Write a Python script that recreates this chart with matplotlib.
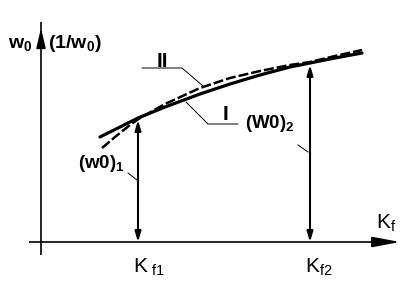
import matplotlib
matplotlib.use("Agg")
import matplotlib.pyplot as plt
import numpy as np

plt.rcParams['mathtext.fontset'] = 'custom'
plt.rcParams['mathtext.rm'] = 'Liberation Sans'
plt.rcParams['mathtext.bf'] = 'Liberation Sans:bold'
plt.rcParams['font.family'] = ['Liberation Sans', 'DejaVu Sans']

# ---- data (arbitrary schematic units) ----
kf_points = [97, 269]            # K_f1, K_f2
curve1_x = [59, 79, 97, 124, 159, 189, 219, 249, 269, 294, 321]
curve1_y = [105, 115, 124, 135, 148, 158, 167, 175, 179, 184, 189]
curve2_x = [61, 74, 89, 99, 124, 159, 189, 219, 249, 269, 294, 321]
curve2_y = [94, 105, 117, 124, 138, 154, 164, 171, 177, 180, 186, 192]
kf_labels = [r'$\mathrm{K}_{\ \mathrm{f1}}$', r'$\mathrm{K}_{\mathrm{f2}}$']

fig = plt.figure(figsize=(4.18, 2.84), dpi=100)
ax = fig.add_axes([0, 0, 1, 1])
ax.set_xlim(-41, 377)
ax.set_ylim(-42, 242)
ax.axis('off')

K = 'black'
# axes
ax.plot([0, 0], [-13, 220], color=K, lw=1.2, solid_capstyle='butt')
ax.annotate('', xy=(0, 214), xytext=(0, 196),
            arrowprops=dict(arrowstyle='-|>,head_length=12,head_width=2.8',
                            mutation_scale=1, color=K, lw=1.2, shrinkA=0, shrinkB=0))
ax.plot([-12, 345], [0, 0], color=K, lw=1.2, solid_capstyle='butt')
ax.annotate('', xy=(359, 0), xytext=(334, 0),
            arrowprops=dict(arrowstyle='-|>,head_length=17,head_width=3.2',
                            mutation_scale=1, color=K, lw=1.2, shrinkA=0, shrinkB=0))

# curves
ax.plot(curve1_x, curve1_y, color=K, lw=2.3, solid_capstyle='round')
ax.plot(curve2_x, curve2_y, color=K, lw=1.8, linestyle=(0, (4, 1.2)))

# vertical double arrows
for kf in kf_points:
    top = np.interp(kf, curve1_x, curve1_y)
    ax.annotate('', xy=(kf, top - 2), xytext=(kf, 0),
                arrowprops=dict(arrowstyle='<|-|>,head_length=6,head_width=1.8',
                                mutation_scale=1, color=K, lw=1.5,
                                shrinkA=0, shrinkB=0))

# leaders
thin = 0.7
ax.plot([101, 141, 162], [174, 174, 156], color=K, lw=thin)       # II
ax.plot([197, 167, 145], [118, 118, 140], color=K, lw=thin)       # I
ax.plot([87, 96], [69, 62], color=K, lw=thin)                     # (w0)1
ax.plot([257, 267], [97, 90], color=K, lw=thin)                   # (W0)2

# texts
ax.text(-33, 194, r'$\mathbf{w_0}$', fontsize=14, ha='left', va='baseline')
ax.text(7, 194, r'$\mathbf{(1/w_0)}$', fontsize=14, ha='left', va='baseline')
ax.text(121, 175, 'II', fontsize=15, fontweight='bold', ha='center', va='baseline')
ax.text(184, 122, 'I', fontsize=15, fontweight='bold', ha='center', va='baseline')
ax.text(204, 114, r'$\mathbf{(W0)_2}$', fontsize=13.5, ha='left', va='baseline')
ax.text(37, 74, r'$\mathbf{(w0)_1}$', fontsize=13.5, ha='left', va='baseline')
for kf, lab in zip(kf_points, kf_labels):
    ax.text(kf - 5, -30, lab, fontsize=15, ha='left', va='baseline')
ax.text(335, 14, r'$\mathrm{K}_{\mathrm{f}}$', fontsize=15, ha='left', va='baseline')

fig.savefig('out.png', dpi=100)
